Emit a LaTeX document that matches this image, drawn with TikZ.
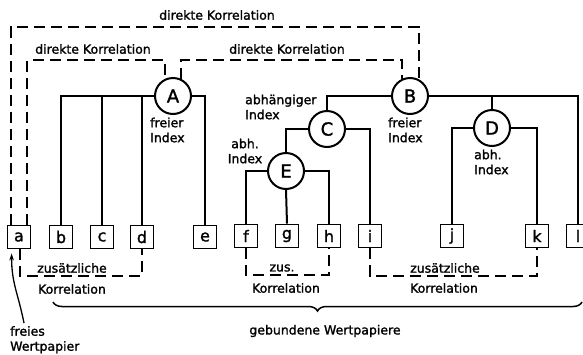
\documentclass[tikz,border=0pt]{standalone}
\usepackage{fontspec}
\setmainfont{DejaVu Sans}[BoldFont={DejaVu Sans},BoldFeatures={FakeBold=1.5}]
\usetikzlibrary{decorations.pathreplacing,arrows.meta,calc}
\begin{document}
\begin{tikzpicture}[x=1pt,y=-1pt,
  circ/.style={circle,draw,line width=2pt,minimum size=36pt,inner sep=0pt,font=\bfseries\fontsize{18}{18}\selectfont},
  sbox/.style={draw,line width=1.8pt,minimum size=23pt,inner sep=0pt,font=\bfseries\fontsize{16}{16}\selectfont},
  wire/.style={line width=2pt},
  corr/.style={line width=2pt,dash pattern=on 11pt off 6pt},
  lbl/.style={font=\bfseries\fontsize{12.5}{15}\selectfont,inner sep=0pt},
]
\useasboundingbox (0,0) rectangle (583,354);
% index circles
\node[circ] (A) at (173,96) {A};
\node[circ] (B) at (410,96) {B};
\node[circ] (C) at (327,129) {C};
\node[circ] (D) at (492,128) {D};
\node[circ] (E) at (286,171) {E};
% securities
\node[sbox] (a) at (19,237) {a};
\node[sbox] (b) at (61,237) {b};
\node[sbox] (c) at (102,237) {c};
\node[sbox] (d) at (142,237) {d};
\node[sbox] (e) at (205,237) {e};
\node[sbox] (f) at (246,236) {f};
\node[sbox] (g) at (287,236) {g};
\node[sbox] (h) at (329,236) {h};
\node[sbox] (i) at (370,236) {i};
\node[sbox] (j) at (452,236) {j};
\node[sbox] (k) at (537,236) {k};
\node[sbox] (l) at (578,236) {l};
% tree wiring
\draw[wire] (b.north) |- (A.west);
\draw[wire] (c.north) -- (c.north |- A.west);
\draw[wire] (d.north) -- (d.north |- A.west);
\draw[wire] (A.east) -| (e.north);
\draw[wire] (B.west) -| (C.north);
\draw[wire] (B.east) -| (l.north);
\draw[wire] (D.north) -- (D.north |- B.east);
\draw[wire] (C.west) -| (E.north);
\draw[wire] (C.east) -| (i.north);
\draw[wire] (D.west) -| (j.north);
\draw[wire] (D.east) -| (k.north);
\draw[wire] (E.west) -| (f.north);
\draw[wire] (E.east) -| (h.north);
\draw[wire] (E.south) -- (g.north);
% direct correlations
\draw[corr] ([xshift=4pt]a.north west) |- (B.62 |- 0,27) -- (B.62);
\draw[corr] ([xshift=-4pt]a.north east) |- (A.114 |- 0,60) -- (A.114);
\draw[corr] (A.66) |- (B.115 |- 0,60) -- (B.115);
\node[lbl] (dk1) at (217,15) {direkte Korrelation};
\node[lbl] (dk2) at (93,49) {direkte Korrelation};
\node[lbl] (dk3) at (287,49) {direkte Korrelation};
% additional correlations
\draw[corr] ([xshift=1pt]a.south) |- (d.south |- 0,276) -- (d.south);
\draw[corr] (f.south) |- (h.south |- 0,275) -- (h.south);
\draw[corr] (i.south) |- (k.south |- 0,276) -- (k.south);
\node[lbl] (z1) at (72,268) {zusätzliche};
\node[lbl] (k1) at (72,289) {Korrelation};
\node[lbl] (z2) at (282,268) {zus.};
\node[lbl] (k2) at (286,288) {Korrelation};
\node[lbl] (z3) at (445,268) {zusätzliche};
\node[lbl] (k3) at (444,288) {Korrelation};
% index labels
\node[lbl,align=left,anchor=west] (fA) at (150,130) {freier\\Index};
\node[lbl,align=left,anchor=west] (fB) at (388,130) {freier\\Index};
\node[lbl,align=left,anchor=west] (hC) at (245,107) {abhängiger\\ Index};
\node[lbl,align=center] (hE) at (245,151) {abh.\\Index};
\node[lbl,align=left,anchor=west] (hD) at (474,162) {abh.\\Index};
% bound securities brace
\coordinate (br1) at (53,302);
\coordinate (br2) at (582,302);
\draw[line width=1.5pt,decorate,decoration={brace,mirror,amplitude=9pt,aspect=0.5}] (br1) -- (br2);
\node[lbl] (gw) at (325,331) {gebundene Wertpapiere};
% free security
\node[lbl,align=left,anchor=north west] (fw) at (10,326) {freies\\Wertpapier};
\draw[line width=1.3pt,-{Stealth[length=7pt,width=4.5pt]}] ([xshift=14pt,yshift=3pt]fw.north west) .. controls +(-6,-30) and +(0,30) .. ([xshift=5pt,yshift=-4pt]a.south west);
\end{tikzpicture}
\end{document}
